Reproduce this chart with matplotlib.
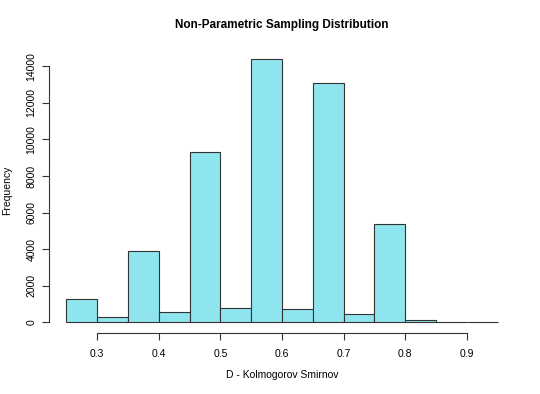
import matplotlib
matplotlib.use("Agg")
import matplotlib.pyplot as plt
import numpy as np

bin_edges = [0.25, 0.30, 0.35, 0.40, 0.45, 0.50, 0.55, 0.60, 0.65, 0.70, 0.75, 0.80, 0.85, 0.90, 0.95]
counts = [1280, 290, 3880, 550, 9300, 760, 14400, 710, 13070, 420, 5370, 90, 8, 3]
x_ticks = [0.3, 0.4, 0.5, 0.6, 0.7, 0.8, 0.9]
y_ticks = [0, 2000, 4000, 6000, 8000, 10000, 12000, 14000]

plt.rcParams['font.family'] = ['Liberation Sans', 'DejaVu Sans']

fig = plt.figure(figsize=(5.4, 3.94), dpi=100)
ax = fig.add_axes([49/540, 1-332.6/394, (515-49)/540, (332.6-48.6)/394])

widths = np.diff(bin_edges)
ax.bar(bin_edges[:-1], counts, width=widths, align='edge', color='#8EE5EE',
       edgecolor='#333333', linewidth=0.8)

xr = bin_edges[-1] - bin_edges[0]
ax.set_xlim(bin_edges[0] - 0.04*xr, bin_edges[-1] + 0.04*xr)
ym = max(counts)
ax.set_ylim(-0.04*ym, ym*1.04)

for s in ['top', 'right']:
    ax.spines[s].set_visible(False)
ax.spines['left'].set_bounds(y_ticks[0], y_ticks[-1])
ax.spines['bottom'].set_bounds(x_ticks[0], x_ticks[-1])
for s in ['left', 'bottom']:
    ax.spines[s].set_color('#333333')
    ax.spines[s].set_linewidth(0.8)

ax.set_xticks(x_ticks)
ax.set_xticklabels([f"{v:.1f}" for v in x_ticks])
ax.set_yticks(y_ticks)
ax.set_yticklabels([str(v) for v in y_ticks], rotation=90, va='center')
ax.tick_params(axis='both', length=5, width=0.8, color='#333333', labelsize=7.5)
ax.tick_params(axis='x', pad=7)
ax.tick_params(axis='y', pad=4)

ax.set_xlabel("D - Kolmogorov Smirnov", fontsize=7.5)
ax.xaxis.set_label_coords(282/540, 1-370.5/394, transform=fig.transFigure)
ax.set_ylabel("Frequency", fontsize=7.5)
ax.yaxis.set_label_coords(12.5/540, 1-190/394, transform=fig.transFigure)
fig.text(282/540, 1-25/394, "Non-Parametric Sampling Distribution", ha='center', va='center',
         fontsize=8.5, fontweight='bold')

fig.savefig("out.png", dpi=100)
